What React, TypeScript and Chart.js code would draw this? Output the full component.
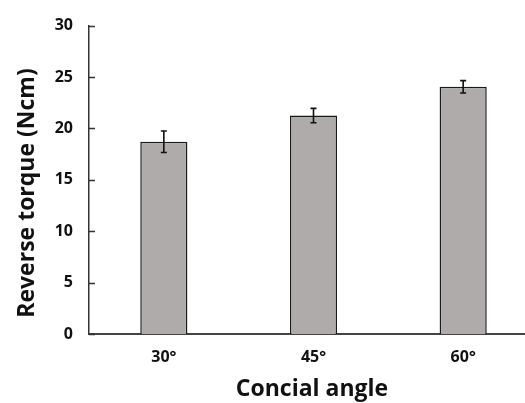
import React, { useEffect, useRef } from "react";
import { Chart, registerables } from "chart.js";

Chart.register(...registerables);

const categories = ["30°", "45°", "60°"];
const torqueValues = [18.7, 21.25, 24.05];
const torqueErrors = [1.05, 0.7, 0.6];
const yTicks = [0, 5, 10, 15, 20, 25, 30];
const xTitle = "Concial angle";
const yTitle = "Reverse torque (Ncm)";

const TITLE_FONT = "bold 23px 'Open Sans'";

const errorBarPlugin = {
  id: "errorBars",
  afterDatasetsDraw(chart: any) {
    const ctx = chart.ctx;
    const meta = chart.getDatasetMeta(0);
    const y = chart.scales.y;
    ctx.save();
    ctx.strokeStyle = "#111";
    ctx.lineWidth = 1.6;
    meta.data.forEach((bar: any, i: number) => {
      const v = torqueValues[i];
      const e = torqueErrors[i];
      const x = bar.x;
      const yt = y.getPixelForValue(v + e);
      const yb = y.getPixelForValue(v - e);
      ctx.beginPath();
      ctx.moveTo(x, yt);
      ctx.lineTo(x, yb);
      ctx.moveTo(x - 3, yt);
      ctx.lineTo(x + 3, yt);
      ctx.moveTo(x - 3, yb);
      ctx.lineTo(x + 3, yb);
      ctx.stroke();
    });
    ctx.restore();
  },
};

const insideTicksPlugin = {
  id: "insideTicks",
  afterDraw(chart: any) {
    const ctx = chart.ctx;
    const y = chart.scales.y;
    const left = chart.chartArea.left;
    ctx.save();
    ctx.strokeStyle = "#333";
    ctx.lineWidth = 1.5;
    yTicks.forEach((t) => {
      const py = Math.round(y.getPixelForValue(t)) + 0.5;
      ctx.beginPath();
      ctx.moveTo(left, py);
      ctx.lineTo(left + 6, py);
      ctx.stroke();
    });
    ctx.restore();
  },
};

const titlesPlugin = {
  id: "axisTitles",
  afterDraw(chart: any) {
    const ctx = chart.ctx;
    ctx.save();
    ctx.fillStyle = "#111";
    ctx.font = TITLE_FONT;
    ctx.textAlign = "center";
    ctx.textBaseline = "alphabetic";
    ctx.fillText(xTitle, 312, 396);
    ctx.translate(34, 193);
    ctx.rotate(-Math.PI / 2);
    ctx.fillText(yTitle, 0, 0);
    ctx.restore();
  },
};

export default function App() {
  const ref = useRef<HTMLCanvasElement | null>(null);

  useEffect(() => {
    document.body.style.margin = "0";
    const canvas = ref.current;
    if (!canvas) return;
    const chart = new Chart(canvas, {
      type: "bar",
      data: {
        labels: categories,
        datasets: [
          {
            data: torqueValues,
            backgroundColor: "#AFABAB",
            borderColor: "#1a1a1a",
            borderWidth: 1.5,
            categoryPercentage: 1,
            barPercentage: 0.315,
          },
        ],
      },
      options: {
        animation: false,
        responsive: false,
        maintainAspectRatio: false,
        layout: { padding: { top: 12, right: 22, bottom: 0, left: 0 } },
        plugins: {
          legend: { display: false },
          tooltip: { enabled: false },
        },
        scales: {
          x: {
            grid: { display: false, drawTicks: false },
            border: { display: true, color: "#444", width: 2 },
            ticks: {
              color: "#111",
              padding: 14,
              font: { family: "Open Sans", weight: "bold", size: 16 },
            },
            afterFit(scale: any) {
              scale.height = 403 - 334;
            },
          },
          y: {
            min: 0,
            max: 30,
            grid: { display: false, drawTicks: false },
            border: { display: true, color: "#333", width: 1.5 },
            ticks: {
              stepSize: 5,
              color: "#111",
              padding: 16,
              font: { family: "Open Sans", weight: "bold", size: 16 },
            },
            afterFit(scale: any) {
              scale.width = 89;
            },
          },
        },
      },
      plugins: [errorBarPlugin, insideTicksPlugin, titlesPlugin],
    });
    return () => chart.destroy();
  }, []);

  return (
    <div style={{ width: 525, height: 403, overflow: "hidden", background: "#fff" }}>
      <canvas ref={ref} width={560} height={403} style={{ display: "block" }} />
    </div>
  );
}
